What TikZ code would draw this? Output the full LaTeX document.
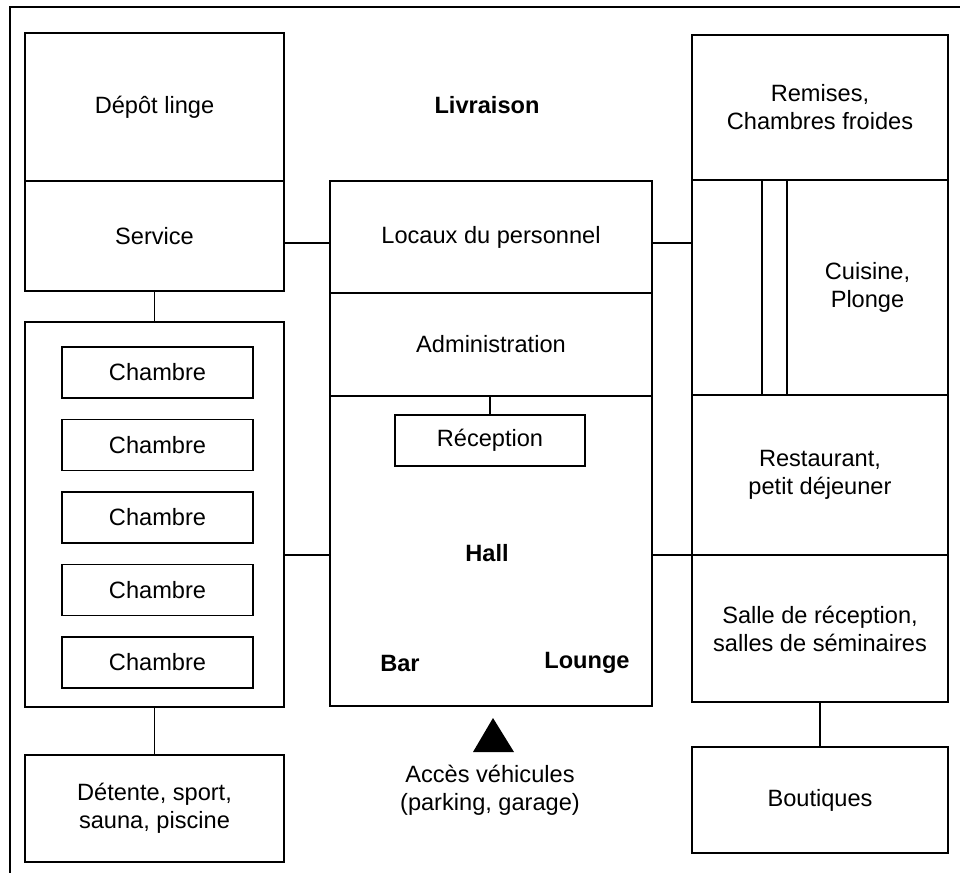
\documentclass[tikz,border=0pt]{standalone}
\usepackage{fontspec}
\setmainfont{Liberation Sans}
\usepackage{xcolor}
\usepackage{tikz}

\tikzset{
  room/.style={draw, line width=0.8pt, inner sep=0pt, align=center},
  link/.style={line width=0.8pt},
  label/.style={font=\fontsize{11.8}{14}\selectfont\bfseries}
}

\begin{document}
\begin{tikzpicture}[x=0.5pt, y=-0.5pt, font=\fontsize{11.8}{14}\selectfont]
      \useasboundingbox (0,0) rectangle (960,873);
      % Frame
      \draw[line width=1.1pt] (960,7) -- (10,7) -- (10,873);

      % Left wing
      \node[room, minimum width=129.5pt, minimum height=74pt] (depot) at (154.5,107) {Dépôt linge};
      \node[room, minimum width=129.5pt, minimum height=55pt] (service) at (154.5,236) {Service};
      \node[room, minimum width=129.5pt, minimum height=192.5pt] (chambres) at (154.5,514.5) {};
      \foreach \i in {0,...,4}
        \node[room, minimum width=95.5pt, minimum height=25.5pt] (ch\i) at (157.5,372.5+72.5*\i) {Chambre};
      \node[room, minimum width=129.5pt, minimum height=53.5pt] (detente) at (154.5,808.5) {Détente, sport,\\sauna, piscine};

      % Centre
      \node[label] (livraison) at (487,105) {Livraison};
      \node[room, minimum width=161pt, minimum height=56pt] (locaux) at (491,237) {Locaux du personnel};
      \node[room, minimum width=161pt, minimum height=51.5pt] (admin) at (491,344.5) {Administration};
      \node[room, minimum width=161pt, minimum height=155pt] (hall) at (491,551) {};
      \node[room, minimum width=95pt, minimum height=25.5pt] (reception) at (490,440.5) {Réception};
      \node[label] (hallname) at (487,553) {Hall};
      \node[label] (bar) at (400,663) {Bar};
      \node[label] (lounge) at (587,663) {Lounge};
      \fill (473,752) -- (493,718) -- (514,752) -- cycle;
      \node[align=center] (acces) at (490,790) {Accès véhicules\\(parking, garage)};

      % Right wing
      \node[room, minimum width=128pt, minimum height=72.5pt] (remises) at (820,107.5) {Remises,\\Chambres froides};
      \node[room, minimum width=35pt, minimum height=107.5pt] (office) at (727,287.5) {};
      \node[room, minimum width=12.5pt, minimum height=107.5pt] (passage) at (774.5,287.5) {};
      \node[room, minimum width=80.5pt, minimum height=107.5pt] (cuisine) at (867.5,287.5) {Cuisine,\\Plonge};
      \node[room, minimum width=128pt, minimum height=80pt] (restaurant) at (820,475) {Restaurant,\\petit déjeuner};
      \node[room, minimum width=128pt, minimum height=73.5pt] (salle) at (820,628.5) {Salle de réception,\\salles de séminaires};
      \node[room, minimum width=128pt, minimum height=53pt] (boutiques) at (820,800) {Boutiques};

      % Connections
      \coordinate (top) at (0,243);
      \coordinate (mid) at (0,555);
      \draw[link] (service.south) -- (chambres.north);
      \draw[link] (chambres.south) -- (detente.north);
      \draw[link] (service.east |- top) -- (locaux.west |- top);
      \draw[link] (locaux.east |- top) -- (office.west |- top);
      \draw[link] (chambres.east |- mid) -- (hall.west |- mid);
      \draw[link] (hall.east |- mid) -- (restaurant.west |- mid);
      \draw[link] (reception.north) -- (reception.north |- hall.north);
      \draw[link] (salle.south) -- (boutiques.north);
    \end{tikzpicture}
\end{document}
